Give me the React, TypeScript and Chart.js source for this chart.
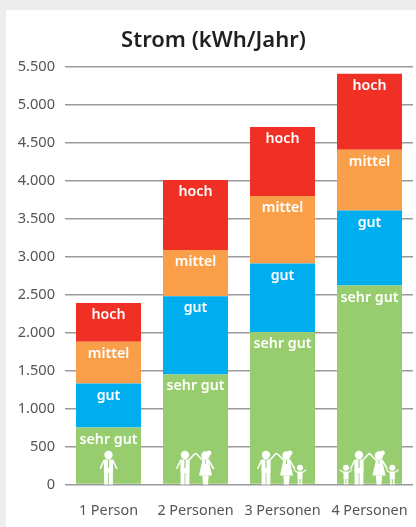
import React, { useEffect, useRef } from "react";
import { Chart, registerables } from "chart.js";

Chart.register(...registerables);

const categories = ["1 Person", "2 Personen", "3 Personen", "4 Personen"];
const sehrGut = [750, 1450, 2010, 2620];
const gut = [580, 1030, 900, 990];
const mittel = [550, 610, 890, 800];
const hoch = [510, 920, 910, 1000];
const yTicks = [0, 500, 1000, 1500, 2000, 2500, 3000, 3500, 4000, 4500, 5000, 5500];
const figures: string[][] = [["s"], ["m", "w"], ["m", "w", "c"], ["c", "m", "w", "c"]];
const figureOffsets: number[][] = [[0], [-10.5, 10], [-16.5, 4, 17.5], [-23.5, -10.5, 9.5, 22.8]];

const FONT = '"Noto Sans", sans-serif';
const GREEN = "#97cd6f";

function limb(ctx: CanvasRenderingContext2D, pts: number[], w: number) {
  ctx.lineWidth = w;
  ctx.beginPath();
  ctx.moveTo(pts[0], pts[1]);
  for (let i = 2; i < pts.length; i += 2) ctx.lineTo(pts[i], pts[i + 1]);
  ctx.stroke();
}

function drawFigure(ctx: CanvasRenderingContext2D, kind: string, x: number, base: number) {
  ctx.save();
  ctx.translate(x, base);
  ctx.fillStyle = "#fff";
  ctx.strokeStyle = "#fff";
  ctx.lineCap = "round";
  if (kind === "m" || kind === "s") {
    ctx.beginPath();
    ctx.arc(0, -29.5, 4.2, 0, Math.PI * 2);
    ctx.fill();
    ctx.fillRect(-4.6, -25, 9.2, 13.5);
    ctx.fillRect(-4.4, -12, 4, 12);
    ctx.fillRect(0.4, -12, 4, 12);
    limb(ctx, [-4.5, -24, -8.2, -16], 1.5);
    limb(ctx, kind === "s" ? [4.5, -24, 8.2, -16] : [4, -24.5, 10, -31], 1.5);
    ctx.fillStyle = GREEN;
    ctx.fillRect(-0.6, -24.5, 1.2, 8);
  } else if (kind === "w") {
    ctx.beginPath();
    ctx.arc(0, -29, 4.2, 0, Math.PI * 2);
    ctx.fill();
    ctx.beginPath();
    ctx.arc(3.5, -31.5, 2.4, 0, Math.PI * 2);
    ctx.fill();
    ctx.beginPath();
    ctx.moveTo(-3, -25);
    ctx.lineTo(3, -25);
    ctx.lineTo(6.5, -9);
    ctx.lineTo(-6.5, -9);
    ctx.closePath();
    ctx.fill();
    ctx.beginPath();
    ctx.moveTo(-3.2, -9);
    ctx.lineTo(3.2, -9);
    ctx.lineTo(2.4, 0);
    ctx.lineTo(-2.4, 0);
    ctx.closePath();
    ctx.fill();
    limb(ctx, [-3, -24.5, -9.5, -31], 1.5);
    limb(ctx, [3, -24.5, 8, -16], 1.5);
    ctx.fillStyle = GREEN;
    ctx.fillRect(-0.4, -24.5, 0.8, 4);
  } else {
    ctx.beginPath();
    ctx.arc(0, -16.7, 3, 0, Math.PI * 2);
    ctx.fill();
    ctx.fillRect(-2.5, -13, 5, 8);
    ctx.fillRect(-2.2, -5, 1.7, 5);
    ctx.fillRect(0.5, -5, 1.7, 5);
    limb(ctx, [-2.3, -12, -6, -14.5], 1.1);
    limb(ctx, [2.3, -12, 6, -14.5], 1.1);
  }
  ctx.restore();
}

const overlayPlugin = {
  id: "overlay",
  afterDatasetsDraw(chart: any) {
    const { ctx } = chart;
    ctx.save();
    ctx.fillStyle = "#fff";
    ctx.textAlign = "center";
    ctx.textBaseline = "middle";
    ctx.font = `600 14.2px ${FONT}`;
    chart.data.datasets.forEach((ds: any, i: number) => {
      chart.getDatasetMeta(i).data.forEach((bar: any) => {
        ctx.fillText(ds.label, bar.x, bar.y + 12);
      });
    });
    const base = chart.scales.y.getPixelForValue(0);
    figures.forEach((group, c) => {
      const cx = chart.scales.x.getPixelForValue(c);
      group.forEach((kind, k) => drawFigure(ctx, kind, cx + figureOffsets[c][k], base));
    });
    ctx.restore();
  },
};

export default function App() {
  const ref = useRef<HTMLCanvasElement>(null);
  useEffect(() => {
    const chart = new Chart(ref.current!, {
      type: "bar",
      data: {
        labels: categories,
        datasets: [
          { label: "sehr gut", data: sehrGut, backgroundColor: GREEN },
          { label: "gut", data: gut, backgroundColor: "#00aeef" },
          { label: "mittel", data: mittel, backgroundColor: "#f99f49" },
          { label: "hoch", data: hoch, backgroundColor: "#f03024" },
        ],
      },
      options: {
        animation: false,
        responsive: false,
        layout: { padding: { left: 8, right: 3, bottom: 0, top: 0 } },
        datasets: { bar: { categoryPercentage: 1, barPercentage: 0.747 } },
        plugins: {
          legend: { display: false },
          tooltip: { enabled: false },
          title: {
            display: true,
            text: "Strom (kWh/Jahr)",
            color: "#231f20",
            font: { family: FONT, size: 22, weight: "600", lineHeight: 1.2 },
            padding: { top: 18, bottom: 12.6 },
          },
        },
        scales: {
          x: {
            stacked: true,
            grid: { display: false },
            border: { display: false },
            afterFit(axis: any) {
              axis.height = 42.5;
              axis.paddingLeft = 0;
              axis.paddingRight = 0;
            },
            ticks: { color: "#555", font: { family: FONT, size: 14.4 }, padding: 10, maxRotation: 0, autoSkip: false },
          },
          y: {
            stacked: true,
            min: 0,
            max: 5500,
            afterBuildTicks(axis: any) {
              axis.ticks = yTicks.map((value) => ({ value }));
            },
            afterFit(axis: any) {
              axis.width = 51;
            },
            grid: { color: "#9a9a9a", lineWidth: 1.5, drawTicks: false },
            border: { display: false },
            ticks: {
              color: "#555",
              padding: 10,
              font: { family: FONT, size: 14.6 },
              callback: (v: any) => Number(v).toLocaleString("de-DE"),
            },
          },
        },
      },
      plugins: [overlayPlugin],
    } as any);
    return () => chart.destroy();
  }, []);
  return (
    <div style={{ position: "fixed", left: 0, top: 0, width: 416, height: 527, background: "#ededed", overflow: "hidden" }}>
      <div style={{ position: "absolute", left: 6, top: 10, width: 410, height: 517, background: "#fff" }}>
        <canvas ref={ref} width={410} height={517} style={{ display: "block" }} />
      </div>
    </div>
  );
}
